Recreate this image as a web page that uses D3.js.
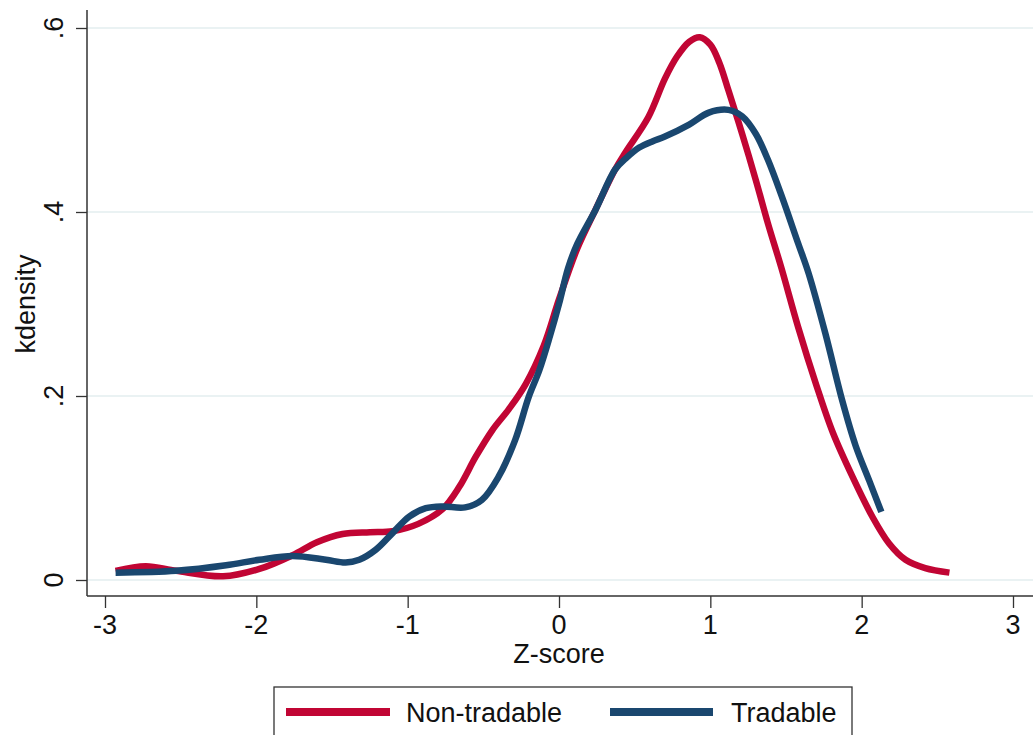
<!DOCTYPE html>
<html>
<head>
<meta charset="utf-8">
<script src="https://cdn.jsdelivr.net/npm/d3@7"></script>
<style>
  html, body { margin: 0; padding: 0; background: #fff; }
  svg { display: block; font-family: "Liberation Sans", Arial, sans-serif; }
</style>
</head>
<body>
<svg id="chart" width="1033" height="735"></svg>
<script>
// ---- data ----
const seriesNames = ["Non-tradable", "Tradable"];
const xNonTradable = [-2.93,-2.73,-2.53,-2.22,-1.98,-1.76,-1.60,-1.43,-1.25,-1.10,-0.93,-0.77,-0.66,-0.55,-0.44,-0.33,-0.22,-0.10,0.00,0.12,0.24,0.37,0.44,0.59,0.70,0.78,0.86,0.93,1.00,1.06,1.12,1.21,1.30,1.38,1.47,1.58,1.70,1.81,1.94,2.07,2.18,2.29,2.42,2.58];
const yNonTradable = [0.010,0.015,0.010,0.004,0.012,0.027,0.041,0.050,0.052,0.053,0.061,0.077,0.101,0.134,0.163,0.186,0.213,0.255,0.305,0.360,0.402,0.446,0.465,0.503,0.545,0.569,0.585,0.590,0.582,0.562,0.532,0.485,0.435,0.388,0.339,0.275,0.212,0.160,0.112,0.069,0.040,0.022,0.013,0.008];
const xTradable = [-2.93,-2.53,-2.20,-1.98,-1.76,-1.54,-1.41,-1.32,-1.21,-1.10,-0.99,-0.88,-0.77,-0.62,-0.51,-0.40,-0.29,-0.20,-0.13,-0.06,0.00,0.06,0.12,0.24,0.37,0.44,0.53,0.62,0.70,0.86,0.99,1.12,1.21,1.30,1.38,1.47,1.58,1.65,1.76,1.87,1.96,2.05,2.13];
const yTradable = [0.008,0.010,0.016,0.022,0.026,0.022,0.019,0.022,0.033,0.051,0.069,0.078,0.080,0.079,0.087,0.112,0.152,0.199,0.228,0.265,0.300,0.339,0.365,0.402,0.446,0.458,0.470,0.477,0.482,0.495,0.508,0.511,0.504,0.485,0.457,0.418,0.366,0.333,0.268,0.196,0.146,0.108,0.074];
const xTicks = [-3,-2,-1,0,1,2,3];
const yTicks = [0, 0.2, 0.4, 0.6];
const yTickLabels = ["0", ".2", ".4", ".6"];
const colors = ["#c10534", "#1a476f"];

// ---- layout ----
const svg = d3.select("#chart");
const W = 1033;
const axisX = 87, axisY = 596;
const x = d3.scaleLinear().domain([-3, 3]).range([105, 1013]);
const y = d3.scaleLinear().domain([0, 0.6]).range([580, 28]);
const font = 27;

// gridlines
svg.append("g").selectAll("line").data(yTicks).join("line")
  .attr("x1", axisX).attr("x2", W)
  .attr("y1", d => y(d)).attr("y2", d => y(d))
  .attr("stroke", "#eaf2f3").attr("stroke-width", 2);

// y axis
const yAxis = svg.append("g").attr("transform", `translate(${axisX},0)`)
  .call(d3.axisLeft(y).tickValues(yTicks).tickSize(11).tickFormat(""));
yAxis.select(".domain").remove();
yAxis.selectAll(".tick line").attr("stroke", "#333").attr("stroke-width", 1.3);
svg.append("line").attr("x1", axisX).attr("x2", axisX).attr("y1", 10).attr("y2", axisY)
  .attr("stroke", "#333").attr("stroke-width", 1.5);
svg.append("g").selectAll("text").data(yTicks).join("text")
  .attr("transform", (d) => `translate(63,${y(d)}) rotate(-90)`)
  .attr("text-anchor", "middle").attr("font-size", font).attr("fill", "#111")
  .text((d, i) => yTickLabels[i]);

// x axis
const xAxis = svg.append("g").attr("transform", `translate(0,${axisY})`)
  .call(d3.axisBottom(x).tickValues(xTicks).tickSize(12).tickFormat(""));
xAxis.select(".domain").remove();
xAxis.selectAll(".tick line").attr("stroke", "#333").attr("stroke-width", 1.3);
svg.append("line").attr("x1", axisX).attr("x2", W).attr("y1", axisY).attr("y2", axisY)
  .attr("stroke", "#333").attr("stroke-width", 1.5);
svg.append("g").selectAll("text").data(xTicks).join("text")
  .attr("x", d => x(d)).attr("y", 634)
  .attr("text-anchor", "middle").attr("font-size", font).attr("fill", "#111")
  .text(d => d);

// axis titles
svg.append("text").attr("x", x(0)).attr("y", 663).attr("text-anchor", "middle")
  .attr("font-size", font).attr("fill", "#111").text("Z-score");
svg.append("text").attr("transform", "translate(35,304) rotate(-90)")
  .attr("text-anchor", "middle").attr("font-size", font).attr("fill", "#111").text("kdensity");

// curves
const line = d3.line().x(d => x(d[0])).y(d => y(d[1])).curve(d3.curveCatmullRom.alpha(0.5));
const series = [
  d3.zip(xNonTradable, yNonTradable),
  d3.zip(xTradable, yTradable)
];
series.forEach((s, i) => {
  svg.append("path").datum(s).attr("d", line)
    .attr("fill", "none").attr("stroke", colors[i]).attr("stroke-width", 6.5)
    .attr("stroke-linecap", "butt").attr("stroke-linejoin", "round");
});

// legend
const lg = svg.append("g");
lg.append("rect").attr("x", 274).attr("y", 687).attr("width", 578).attr("height", 70)
  .attr("fill", "#fff").attr("stroke", "#333").attr("stroke-width", 1.3);
const legendItems = [
  { x1: 286, x2: 390, tx: 406 },
  { x1: 610, x2: 713, tx: 731 }
];
legendItems.forEach((it, i) => {
  lg.append("line").attr("x1", it.x1).attr("x2", it.x2).attr("y1", 712).attr("y2", 712)
    .attr("stroke", colors[i]).attr("stroke-width", 8);
  lg.append("text").attr("x", it.tx).attr("y", 722).attr("font-size", font).attr("fill", "#111")
    .text(seriesNames[i]);
});
</script>
</body>
</html>
